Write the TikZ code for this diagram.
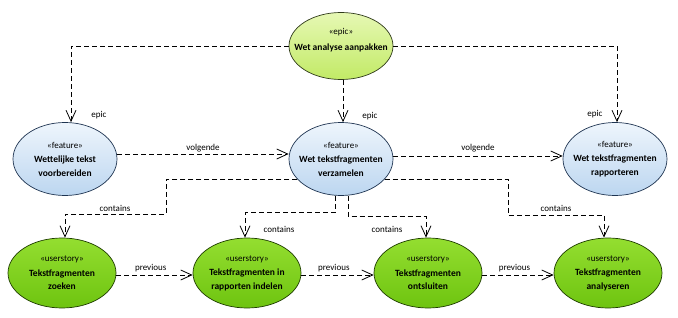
\documentclass[tikz,border=0pt]{standalone}
\usepackage{fontspec}
\setmainfont{Carlito}
\usepackage{tikz}
\usetikzlibrary{positioning,arrows.meta,shapes.geometric}
\definecolor{epicFillA}{HTML}{E6F8B4}
\definecolor{epicFillB}{HTML}{C2EA66}
\definecolor{epicDraw}{HTML}{2F3A1A}
\definecolor{featFillA}{HTML}{EEF5FC}
\definecolor{featFillB}{HTML}{BCD6F0}
\definecolor{featDraw}{HTML}{1E3350}
\definecolor{storyFillA}{HTML}{94DE30}
\definecolor{storyFillB}{HTML}{6EC410}
\definecolor{storyDraw}{HTML}{1F3D00}
\tikzset{
  usecase/.style={ellipse, draw, line width=0.7pt, inner xsep=-20pt, inner ysep=-12pt, align=center, font=\fontsize{9.5}{13.5}\selectfont},
  epicCase/.style={usecase, top color=epicFillA, bottom color=epicFillB, draw=epicDraw, minimum width=104pt, minimum height=67pt},
  featCase/.style={usecase, top color=featFillA, bottom color=featFillB, draw=featDraw, minimum width=104pt, minimum height=73pt},
  storyCase/.style={usecase, top color=storyFillA, bottom color=storyFillB, draw=storyDraw, minimum width=108pt, minimum height=70pt},
  dep/.style={-{Straight Barb[length=11pt, width=10pt, line width=0.8pt]}, line width=0.8pt, dash pattern=on 5pt off 3pt},
  depLabel/.style={font=\fontsize{9}{10}\selectfont, inner sep=1pt}
}
\newcommand{\stereo}[1]{{\fontsize{9}{10}\selectfont\guillemotleft#1\guillemotright}}

\begin{document}
\begin{tikzpicture}[x=1pt, y=-1pt]
  \useasboundingbox (0,0) rectangle (678,318);
  % epic
  \node[epicCase] (wap) at (341,46) {\stereo{epic}\\[2pt] \textbf{Wet analyse aanpakken}\\ \mbox{}};
  % features
  \node[featCase] (wlt) at (65,159) {\stereo{feature}\\[1pt] \textbf{Wettelijke tekst}\\ \textbf{voorbereiden}};
  \node[featCase] (wtv) at (341,159) {\stereo{feature}\\[1pt] \textbf{Wet tekstfragmenten}\\ \textbf{verzamelen}};
  \node[featCase] (wtr) at (615,159) {\stereo{feature}\\[1pt] \textbf{Wet tekstfragmenten}\\ \textbf{rapporteren}};
  % user stories
  \node[storyCase] (tz) at (62,273) {\stereo{userstory}\\[1pt] \textbf{Tekstfragmenten}\\ \textbf{zoeken}};
  \node[storyCase] (tri) at (247,273) {\stereo{userstory}\\[1pt] \textbf{Tekstfragmenten in}\\ \textbf{rapporten indelen}};
  \node[storyCase] (tos) at (428,273) {\stereo{userstory}\\[1pt] \textbf{Tekstfragmenten}\\ \textbf{ontsluiten}};
  \node[storyCase] (tan) at (608,273) {\stereo{userstory}\\[1pt] \textbf{Tekstfragmenten}\\ \textbf{analyseren}};

  % epic links
  \draw[dep] (wap.west) -| ([xshift=6pt]wlt.north);
  \draw[dep] ([xshift=2pt]wap.south) -- ([xshift=2pt]wtv.north);
  \draw[dep] (wap.east) -| ([xshift=2pt]wtr.north);
  \node[depLabel] (le1) at (99,115) {epic};
  \node[depLabel] (le2) at (370,116) {epic};
  \node[depLabel] (le3) at (595,114) {epic};

  % volgende
  \draw[dep] ([yshift=5pt]wlt.east) -- ([yshift=5pt]wtv.west) node[depLabel, pos=0.5, above=1pt] (lv1) {volgende};
  \draw[dep] ([yshift=3pt]wtv.east) -- ([yshift=3pt]wtr.west) node[depLabel, pos=0.5, above=3pt] (lv2) {volgende};

  % contains
  \draw[dep] (wtv.205) -| (166,214) -| ([xshift=3pt]tz.north);
  \draw[dep] ([xshift=-6pt]wtv.south) -- ++(0,16.5) -| ([xshift=-2pt]tri.north);
  \draw[dep] ([xshift=7pt]wtv.south) -- ++(0,20.5) -| ([xshift=-2pt]tos.north);
  \draw[dep] (wtv.-25) -| (508,215) -| ([xshift=-4pt]tan.north);
  \node[depLabel] (lc1) at (115,208) {contains};
  \node[depLabel] (lc2) at (279,229) {contains};
  \node[depLabel] (lc3) at (387,229) {contains};
  \node[depLabel] (lc4) at (556,208) {contains};

  % previous
  \draw[dep] ([yshift=-2pt]tz.east) -- ([yshift=-2pt]tri.west) node[depLabel, pos=0.45, above=2pt] (lp1) {previous};
  \draw[dep] ([yshift=-2pt]tri.east) -- ([yshift=-2pt]tos.west) node[depLabel, pos=0.45, above=2pt] (lp2) {previous};
  \draw[dep] ([yshift=-2pt]tos.east) -- ([yshift=-2pt]tan.west) node[depLabel, pos=0.45, above=2pt] (lp3) {previous};
\end{tikzpicture}
\end{document}
